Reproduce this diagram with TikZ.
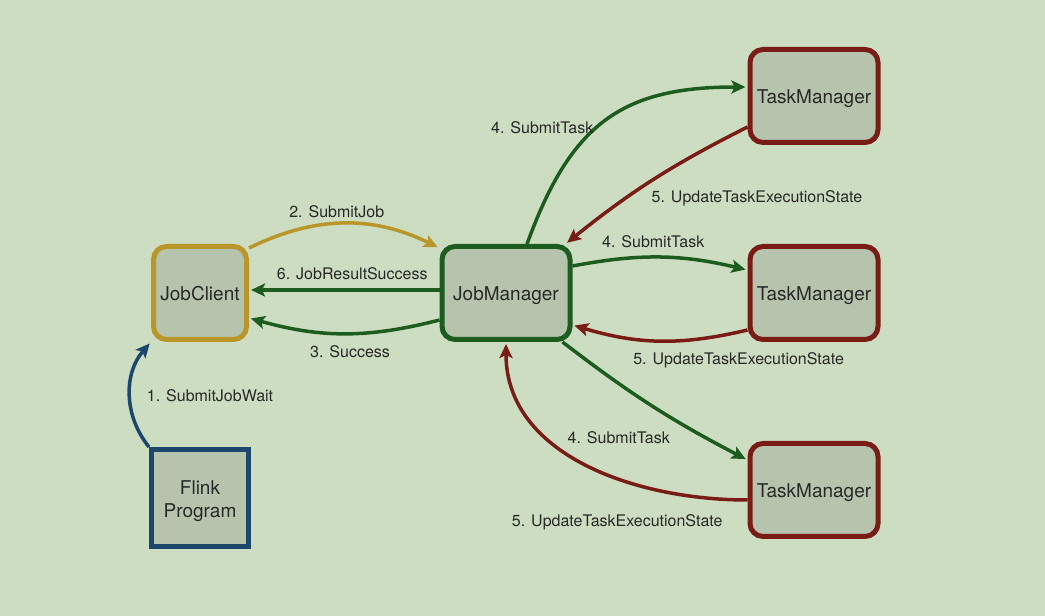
\documentclass[tikz,border=0pt]{standalone}
\usepackage{fontspec}
\setmainfont{TeX Gyre Heros}
\usetikzlibrary{arrows.meta,positioning}

\definecolor{bgcol}{RGB}{205,221,193}
\definecolor{boxcol}{RGB}{182,196,173}
\definecolor{txtcol}{RGB}{40,40,40}
\definecolor{clientcol}{RGB}{184,150,42}
\definecolor{managercol}{RGB}{28,92,30}
\definecolor{taskcol}{RGB}{122,28,22}
\definecolor{progcol}{RGB}{28,70,108}

\begin{document}
\begin{tikzpicture}[x=1pt,y=1pt]
	\tikzset{box/.style={draw,line width=5pt,rounded corners=13pt,fill=boxcol,minimum width=128pt,minimum height=93pt,inner sep=0pt,align=center,text=txtcol,text height=15.5pt,text depth=0pt,font=\fontsize{19}{23}\selectfont},
		lbl/.style={inner sep=0pt,text=txtcol,text height=11.5pt,text depth=3.5pt,font=\fontsize{16}{19}\selectfont},
		flow/.style={line width=3.5pt,shorten >=2pt,-{Stealth[length=14pt,width=13pt,inset=3pt]}}}
	\fill[bgcol] (0,0) rectangle (1045,616);
	\useasboundingbox (0,0) rectangle (1045,616);
	% boxes
	\node [box,draw=clientcol,minimum width=93pt] (client) at (200,323) {JobClient};
	\node [box,draw=progcol,sharp corners,minimum width=97pt,minimum height=97pt,text height=39.5pt] (program) at (200,118) {Flink\\Program};
	\node [box,draw=managercol] (manager) at (506,323) {JobManager};
	\node [box,draw=taskcol] (tm1) at (814,520) {TaskManager};
	\node [box,draw=taskcol] (tm2) at (814,323) {TaskManager};
	\node [box,draw=taskcol] (tm3) at (814,126) {TaskManager};
	% client side
	\draw[flow,progcol] (program.north west) to[bend left=40] node[lbl,right=15pt,yshift=-3pt] {1. SubmitJobWait} (client.south west);
	\draw[flow,clientcol] ([yshift=-4pt]client.north east) to[bend left=26] node[lbl,above=0.5pt,xshift=-7.5pt] {2. SubmitJob} ([yshift=-4pt]manager.north west);
	\draw[flow,managercol] ([yshift=-27pt]manager.west) to[bend left=15] node[lbl,below=10.5pt,xshift=6pt] {3. Success} ([yshift=-25pt]client.east);
	\draw[flow,managercol] ([yshift=3pt]manager.west) -- node[lbl,above=5.5pt,xshift=8pt] {6. JobResultSuccess} ([yshift=3pt]client.east);
	% task managers
	\draw[flow,managercol] ([xshift=21pt]manager.north) to[out=70,in=180,looseness=1.2] node[lbl,pos=0.45,left=1pt,yshift=-1pt] {4. SubmitTask} ([yshift=9pt]tm1.west);
	\draw[flow,taskcol] ([yshift=-31pt]tm1.west) to[bend right=6] node[lbl,anchor=north west,xshift=-3pt,yshift=-9pt] {5. UpdateTaskExecutionState} ([xshift=-7pt]manager.north east);
	\draw[flow,managercol] ([yshift=27pt]manager.east) to[bend left=12] node[lbl,above=5pt,xshift=-7pt] {4. SubmitTask} ([yshift=23pt]tm2.west);
	\draw[flow,taskcol] ([yshift=-37pt]tm2.west) to[bend left=15] node[lbl,below=10.5pt,xshift=79pt] {5. UpdateTaskExecutionState} ([yshift=-32pt]manager.east);
	\draw[flow,managercol] ([xshift=-10pt]manager.south east) to[bend right=5] node[lbl,pos=0.62,below left=12pt and 1pt] {4. SubmitTask} ([yshift=30pt]tm3.west);
	\draw[flow,taskcol] ([yshift=-10pt]tm3.west) to[out=180,in=270] node[lbl,pos=0.08,below left=14pt and -4pt] {5. UpdateTaskExecutionState} (manager.south);
\end{tikzpicture}
\end{document}
